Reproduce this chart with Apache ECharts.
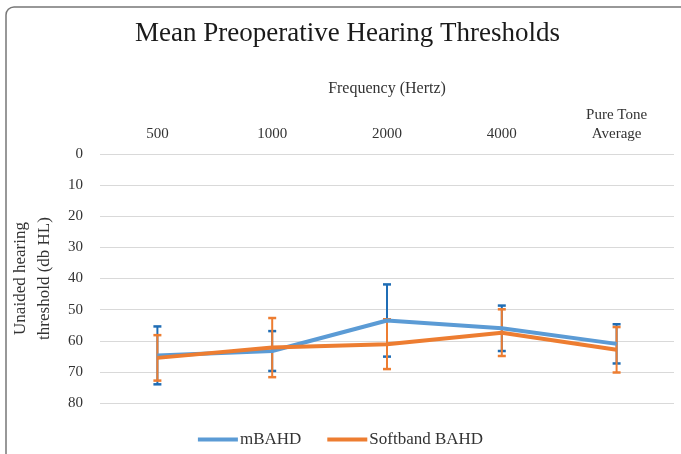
<!DOCTYPE html>
<html>
<head>
<meta charset="utf-8">
<script src="https://cdn.jsdelivr.net/npm/echarts@6/dist/echarts.min.js"></script>
<style>
  html, body { margin: 0; padding: 0; background: #fff; }
  #main { width: 681px; height: 454px; }
</style>
</head>
<body>
<div id="main"></div>
<script>
const categories = ['500', '1000', '2000', '4000', 'Pure Tone\nAverage'];
const mbahdMean = [64.7, 63.3, 53.5, 56.0, 61.0];
const mbahdErr = [9.3, 6.4, 11.6, 7.3, 6.3];
const softMean = [65.5, 62.2, 61.1, 57.4, 62.9];
const softErr = [7.3, 9.5, 8.0, 7.5, 7.3];
const yTicks = [0, 80, 10]; // min, max, interval

const serif = 'Liberation Serif';

// 误差线: [index, low, high]
function errData(mean, err) {
    return mean.map((m, i) => [i, m - err[i], m + err[i]]);
}

function errRender(color) {
    return function (params, api) {
        let p1 = api.coord([api.value(0), api.value(1)]);
        let p2 = api.coord([api.value(0), api.value(2)]);
        let w = 4;
        return {
            type: 'group',
            children: [
                { type: 'line', shape: { x1: p1[0], y1: p1[1], x2: p2[0], y2: p2[1] }, style: { stroke: color, lineWidth: 2 } },
                { type: 'line', shape: { x1: p1[0] - w, y1: p1[1], x2: p1[0] + w, y2: p1[1] }, style: { stroke: color, lineWidth: 2.5 } },
                { type: 'line', shape: { x1: p2[0] - w, y1: p2[1], x2: p2[0] + w, y2: p2[1] }, style: { stroke: color, lineWidth: 2.5 } }
            ]
        };
    };
}

let myChart = echarts.init(document.getElementById('main'));
let option = {
    animation: false,
    backgroundColor: '#fff',
    graphic: [{
        type: 'rect',
        shape: { x: 6, y: 7, width: 720, height: 480, r: 8 },
        style: { fill: 'none', stroke: '#777', lineWidth: 1.5 },
        silent: true
    }],
    title: {
        text: 'Mean Preoperative Hearing Thresholds',
        left: 130,
        top: 15,
        textStyle: { fontFamily: serif, fontSize: 27, fontWeight: 'normal', color: '#1a1a1a' }
    },
    legend: {
        data: ['mBAHD', 'Softband BAHD'],
        bottom: 1,
        left: 'center',
        itemWidth: 40,
        itemHeight: 4,
        itemGap: 26,
        icon: 'rect',
        textStyle: { fontFamily: serif, fontSize: 17, color: '#333', padding: [0, 0, 0, -3] }
    },
    grid: { left: 100, right: 7, top: 154, bottom: 51, outerBoundsMode: 'none', containLabel: false },
    xAxis: {
        type: 'category',
        position: 'top',
        data: categories,
        name: 'Frequency (Hertz)',
        nameLocation: 'middle',
        nameGap: 57,
        nameTextStyle: { fontFamily: serif, fontSize: 16, color: '#333' },
        axisLine: { show: false },
        axisTick: { show: false },
        axisLabel: { fontFamily: serif, fontSize: 15, color: '#333', margin: 10, lineHeight: 19 }
    },
    yAxis: {
        type: 'value',
        inverse: true,
        min: yTicks[0],
        max: yTicks[1],
        interval: yTicks[2],
        name: 'Unaided hearing\nthreshold (db HL)',
        nameLocation: 'middle',
        nameGap: 43,
        nameRotate: 90,
        nameTextStyle: { fontFamily: serif, fontSize: 17, color: '#333', lineHeight: 24 },
        axisLine: { show: false },
        axisTick: { show: false },
        axisLabel: { fontFamily: serif, fontSize: 15, color: '#333', margin: 17 },
        splitLine: { lineStyle: { color: '#d9d9d9', width: 1 } }
    },
    series: [
        {
            name: 'mBAHD err',
            type: 'custom',
            renderItem: errRender('#1f6db5'),
            data: errData(mbahdMean, mbahdErr),
            z: 1
        },
        {
            name: 'Softband err',
            type: 'custom',
            renderItem: errRender('#ed7d31'),
            data: errData(softMean, softErr),
            z: 2
        },
        {
            name: 'mBAHD',
            type: 'line',
            data: mbahdMean,
            color: '#5b9bd5',
            symbol: 'none',
            lineStyle: { width: 4, color: '#5b9bd5' },
            z: 3
        },
        {
            name: 'Softband BAHD',
            type: 'line',
            data: softMean,
            color: '#ed7d31',
            symbol: 'none',
            lineStyle: { width: 4, color: '#ed7d31' },
            z: 4
        }
    ]
};
myChart.setOption(option);
</script>
</body>
</html>
